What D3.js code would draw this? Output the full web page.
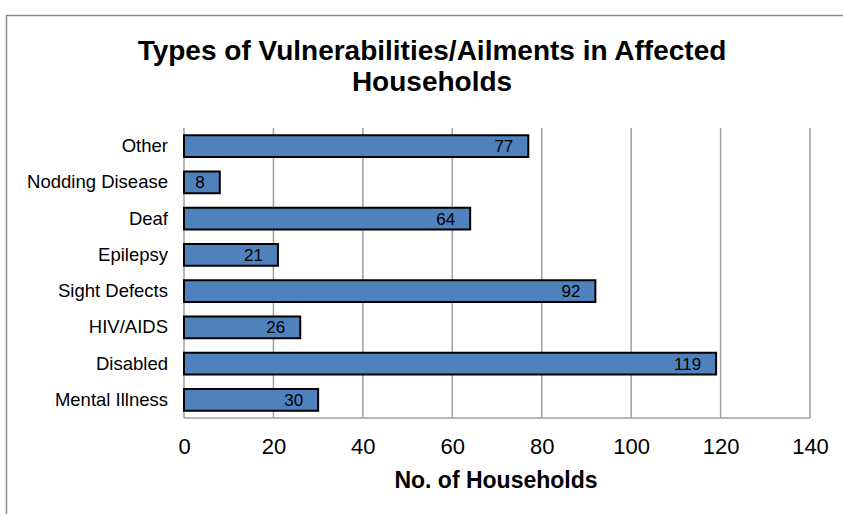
<!DOCTYPE html>
<html><head><meta charset="utf-8">
<script src="https://cdn.jsdelivr.net/npm/d3@7"></script>
<style>body{margin:0;background:#fff}</style>
</head><body>
<svg id="c" width="843" height="514"></svg>
<script>
const categories = ["Other","Nodding Disease","Deaf","Epilepsy","Sight Defects","HIV/AIDS","Disabled","Mental Illness"];
const values = [77, 8, 64, 21, 92, 26, 119, 30];
const xTicks = [0,20,40,60,80,100,120,140];
const titleLines = ["Types of Vulnerabilities/Ailments in Affected","Households"];
const xTitle = "No. of Households";

const svg = d3.select("#c");
const sans = "'Liberation Sans',Arial,sans-serif";

// outer frame
svg.append("rect").attr("x",6.5).attr("y",15.5).attr("width",900).attr("height",600)
  .attr("fill","none").attr("stroke","#8c8c8c").attr("stroke-width",1.5);

const L=184, R=810, T=128, B=418;
const x = d3.scaleLinear().domain([0,140]).range([L,R]);
const y = d3.scaleBand().domain(categories).range([T,B]).paddingInner(0.4).paddingOuter(0.2);

// gridlines
svg.append("g").selectAll("line").data(xTicks).join("line")
  .attr("x1",d=>x(d)).attr("x2",d=>x(d)).attr("y1",T).attr("y2",B)
  .attr("stroke","#a0a0a0").attr("stroke-width",1.5);
svg.append("line").attr("x1",L).attr("x2",R).attr("y1",B).attr("y2",B)
  .attr("stroke","#a0a0a0").attr("stroke-width",1.5);

// bars
svg.append("g").selectAll("rect").data(categories).join("rect")
  .attr("x",x(0)).attr("y",d=>y(d)).attr("width",(d,i)=>x(values[i])-x(0)).attr("height",y.bandwidth())
  .attr("fill","#4F81BD").attr("stroke","#000").attr("stroke-width",2);

// value labels
svg.append("g").selectAll("text").data(categories).join("text")
  .attr("x",(d,i)=>x(values[i])-15).attr("y",d=>y(d)+y.bandwidth()/2).attr("dy","0.36em")
  .attr("text-anchor","end").attr("font-family",sans).attr("font-size",17).attr("fill","#000")
  .text((d,i)=>values[i]);

// category labels
const yAxis = d3.axisLeft(y).tickSize(0).tickPadding(16);
const ga = svg.append("g").attr("transform",`translate(${L},0)`).call(yAxis);
ga.select(".domain").remove();
ga.selectAll("text").attr("font-family",sans).attr("font-size",18.5).attr("fill","#000");

// x tick labels
const xAxis = d3.axisBottom(x).tickValues(xTicks).tickSize(0).tickPadding(20);
const gx = svg.append("g").attr("transform",`translate(0,${B})`).call(xAxis);
gx.select(".domain").remove();
gx.selectAll("text").attr("font-family",sans).attr("font-size",22).attr("fill","#000");

// titles
svg.append("g").selectAll("text").data(titleLines).join("text")
  .attr("x",432).attr("y",(d,i)=>60+i*31).attr("text-anchor","middle")
  .attr("font-family",sans).attr("font-weight","bold").attr("font-size",28).attr("fill","#000")
  .text(d=>d);
svg.append("text").attr("x",496).attr("y",488).attr("text-anchor","middle")
  .attr("font-family",sans).attr("font-weight","bold").attr("font-size",23).attr("fill","#000")
  .text(xTitle);
</script>
</body></html>
